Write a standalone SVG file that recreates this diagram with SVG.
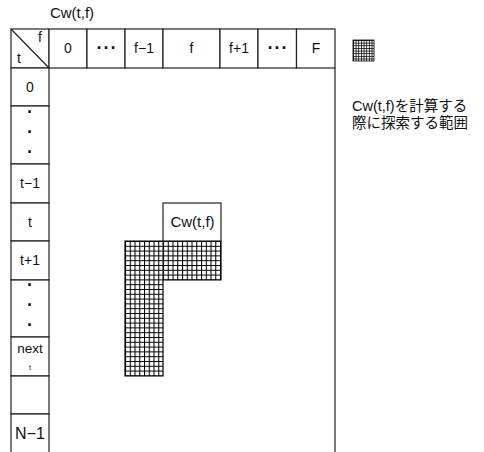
<svg xmlns="http://www.w3.org/2000/svg" width="484" height="452" viewBox="0 0 484 452">
<style>
.c{fill:#fff;stroke:#222;stroke-width:1.2}
.l{stroke:#222;stroke-width:1.2;fill:none}
text{font-family:"Liberation Sans","Noto Sans CJK JP",sans-serif;fill:#111;font-size:14px;text-anchor:middle}
.d{font-size:18px;font-weight:bold}
.j{text-anchor:start;font-size:14.5px}
</style>
<defs>
<pattern id="grid" patternUnits="userSpaceOnUse" x="125" y="241" width="4.75" height="4.8">
<rect width="4.75" height="4.8" fill="#fff"/>
<path d="M0 0.5H4.75M0.5 0V4.8" stroke="#000" stroke-width="1.1"/>
</pattern>
<pattern id="grid2" patternUnits="userSpaceOnUse" x="353" y="40" width="2.65" height="2.65">
<rect width="2.65" height="2.65" fill="#fff"/>
<path d="M0 0.4H2.65M0.4 0V2.65" stroke="#000" stroke-width="0.8"/>
</pattern>
</defs>
<rect width="484" height="452" fill="#fff"/>
<text x="72" y="18" style="font-size:15px">Cw(t,f)</text>
<g id="header">
<g id="corner"><rect class="c" x="11" y="29" width="38" height="39"/><line class="l" x1="11" y1="29" x2="49" y2="68"/><text x="40" y="42">f</text><text x="19" y="63">t</text></g>
<g id="h0"><rect class="c" x="49" y="29" width="38" height="39"/><text x="68" y="53">0</text></g>
<g id="hdots1"><rect class="c" x="87" y="29" width="38" height="39"/><text class="d" x="107" y="54" letter-spacing="1">···</text></g>
<g id="hfm1"><rect class="c" x="125" y="29" width="38" height="39"/><text x="144" y="53">f−1</text></g>
<g id="hf"><rect class="c" x="163" y="29" width="57" height="39"/><text x="191.5" y="53">f</text></g>
<g id="hfp1"><rect class="c" x="220" y="29" width="38" height="39"/><text x="239" y="53">f+1</text></g>
<g id="hdots2"><rect class="c" x="258" y="29" width="38.5" height="39"/><text class="d" x="278" y="54" letter-spacing="1">···</text></g>
<g id="hF"><rect class="c" x="296.5" y="29" width="38.5" height="39"/><text x="316" y="53">F</text></g>
</g>
<line class="l" x1="335" y1="68" x2="335" y2="452"/>
<g id="rows">
<g id="r0"><rect class="c" x="11" y="68" width="38" height="38"/><text x="30" y="92">0</text></g>
<g id="rdots1"><rect class="c" x="11" y="106" width="38" height="58"/><text class="d" x="30" y="118">·</text><text class="d" x="30" y="138">·</text><text class="d" x="30" y="158">·</text></g>
<g id="rtm1"><rect class="c" x="11" y="164" width="38" height="39"/><text x="30" y="188">t−1</text></g>
<g id="rt"><rect class="c" x="11" y="203" width="38" height="38"/><text x="30" y="227">t</text></g>
<g id="rtp1"><rect class="c" x="11" y="241" width="38" height="39"/><text x="30" y="265">t+1</text></g>
<g id="rdots2"><rect class="c" x="11" y="280" width="38" height="57"/><text class="d" x="30" y="291">·</text><text class="d" x="30" y="311">·</text><text class="d" x="30" y="331">·</text></g>
<g id="rnext"><rect class="c" x="11" y="337" width="38" height="39"/><text x="30" y="353" style="font-size:13.5px">next</text><text x="30" y="370" style="font-size:7px">t</text></g>
<g id="rblank"><rect class="c" x="11" y="376" width="38" height="38"/></g>
<g id="rN"><rect class="c" x="11" y="414" width="38" height="50"/><text x="30" y="439" style="font-size:16px">N−1</text></g>
</g>
<g id="search">
<path d="M125 241H221V280H163V376H125Z" fill="url(#grid)" stroke="#000" stroke-width="1.2"/>
</g>
<g id="cw"><rect class="c" x="163" y="203" width="58" height="38"/><text x="192.5" y="227" style="font-size:15px">Cw(t,f)</text></g>
<line class="l" x1="163" y1="241" x2="163" y2="280"/>
<g id="legend">
<rect x="353" y="40" width="21" height="21" fill="url(#grid2)" stroke="#000" stroke-width="0.8"/>
<text class="j" x="352" y="111">Cw(t,f)を計算する</text>
<text class="j" x="352" y="128">際に探索する範囲</text>
</g>
</svg>
